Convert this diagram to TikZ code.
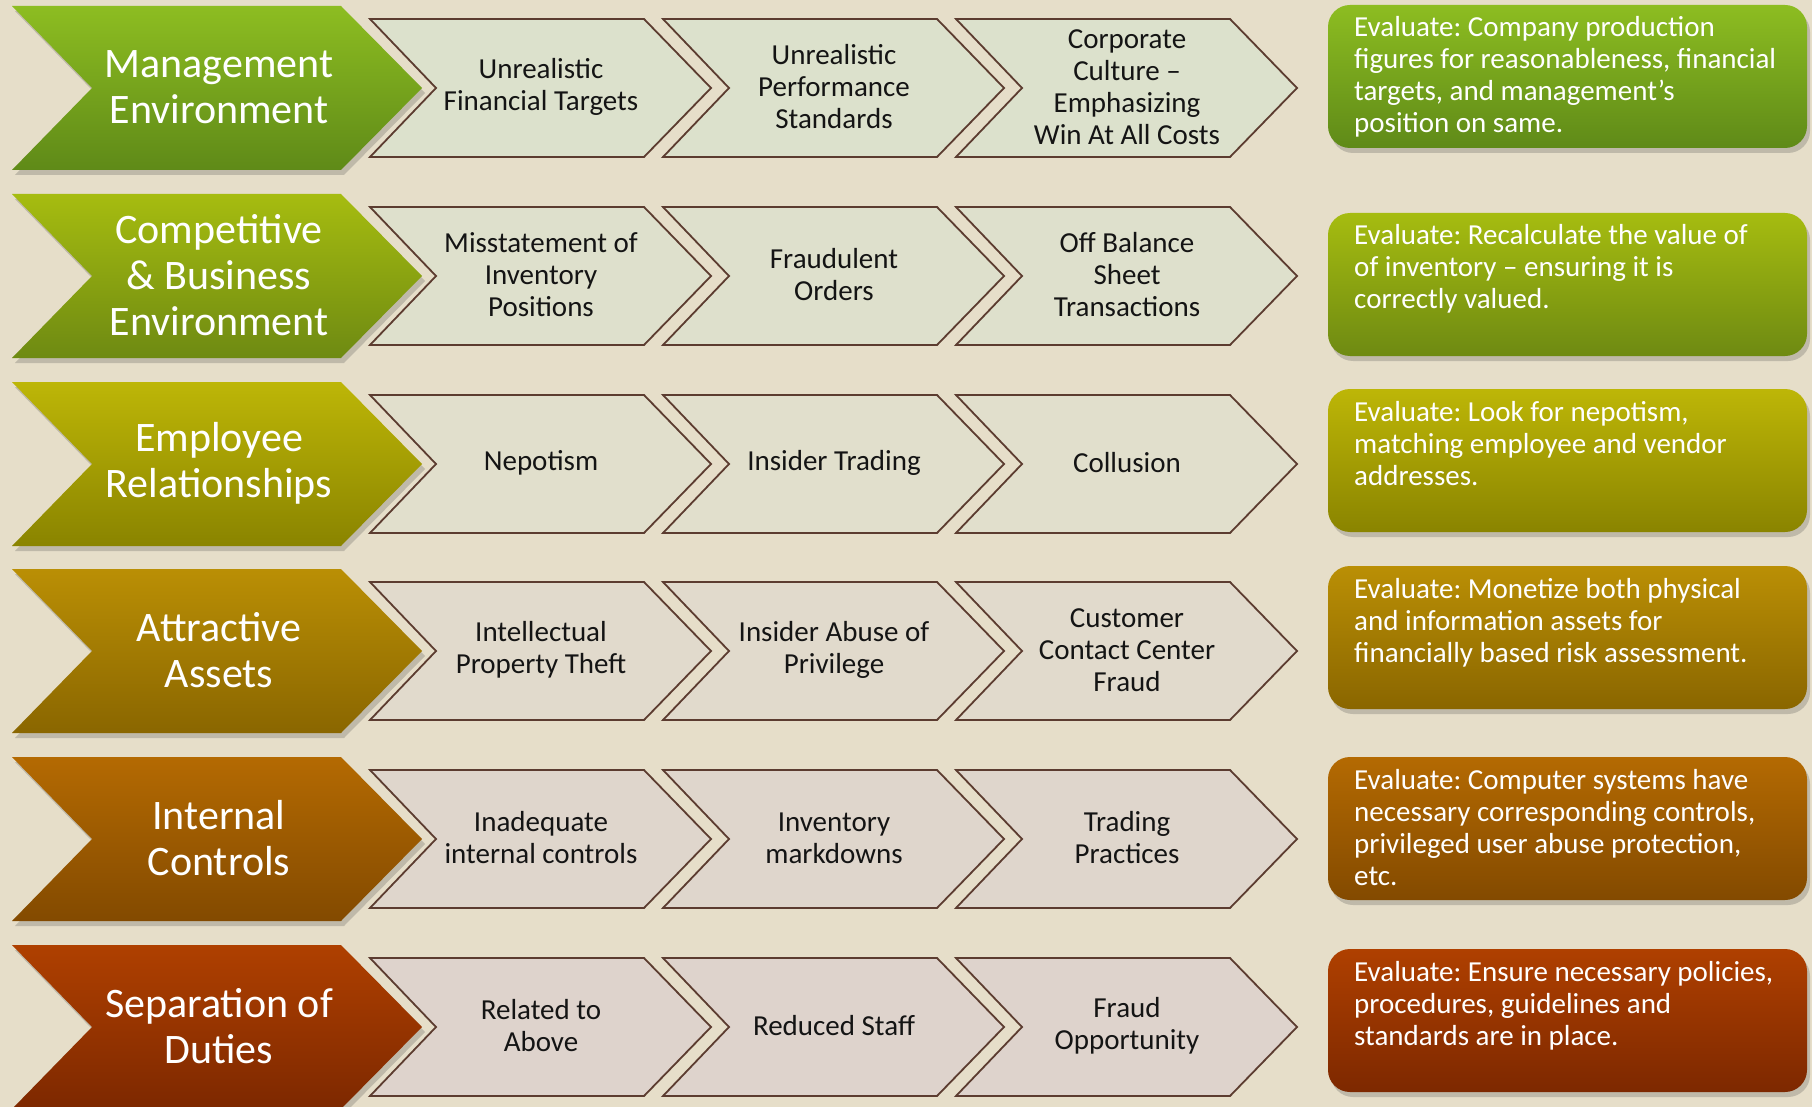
\documentclass[tikz,border=0pt]{standalone}
\usepackage{fontspec}
\setmainfont{Carlito}
\frenchspacing
\usetikzlibrary{shadows}
\definecolor{bg}{RGB}{230,222,201}
\definecolor{edge}{RGB}{92,60,48}
\definecolor{inktxt}{RGB}{20,20,20}
\definecolor{rowAtop}{RGB}{141,189,33}\definecolor{rowAbot}{RGB}{95,138,24}\definecolor{rowAfill}{RGB}{220,225,204}
\definecolor{rowBtop}{RGB}{166,188,16}\definecolor{rowBbot}{RGB}{110,138,18}\definecolor{rowBfill}{RGB}{222,224,204}
\definecolor{rowCtop}{RGB}{189,182,7}\definecolor{rowCbot}{RGB}{138,132,0}\definecolor{rowCfill}{RGB}{225,223,204}
\definecolor{rowDtop}{RGB}{186,143,5}\definecolor{rowDbot}{RGB}{138,102,0}\definecolor{rowDfill}{RGB}{225,218,204}
\definecolor{rowEtop}{RGB}{180,106,2}\definecolor{rowEbot}{RGB}{131,74,0}\definecolor{rowEfill}{RGB}{223,214,204}
\definecolor{rowFtop}{RGB}{175,64,0}\definecolor{rowFbot}{RGB}{125,40,0}\definecolor{rowFfill}{RGB}{222,211,204}
\newcommand\bigtxtfont{\fontsize{42}{46}\selectfont}
\newcommand\smalltxtfont{\fontsize{29}{32}\selectfont}
\tikzset{
  softshadow/.style={drop shadow={shadow xshift=3pt,shadow yshift=-5pt,opacity=.25,fill=black!70}},
  bigchev/.style={softshadow},
  smallchev/.style={draw=edge,line width=1.8pt,line join=miter},
  bigtext/.style={align=center,text=white,font=\bigtxtfont,inner sep=0pt},
  smalltext/.style={align=center,text=inktxt,font=\smalltxtfont,inner sep=0pt},
  evalbox/.style={softshadow,rounded corners=22pt},
  evaltext/.style={text=white,font=\smalltxtfont,inner sep=0pt,anchor=base west},
}
% #1 row letter, #2 row top, #3 title, #4-#6 chevron texts, #7 box top, #8 box text
\newcommand\riskrow[8]{%
  \path[bigchev,top color=row#1top,bottom color=row#1bot]
    (12,#2) -- (341,#2) -- (422,#2+82) -- (341,#2+164) -- (12,#2+164) -- (92,#2+82) -- cycle;
  \node[bigtext] (head#1) at (219,#2+81) {#3};
  \foreach \xo/\nm/\tx in {370/a/{#4},663/b/{#5},956/c/{#6}}{%
    \path[smallchev,fill=row#1fill]
      (\xo,#2+13) -- (\xo+274,#2+13) -- (\xo+341,#2+82) -- (\xo+274,#2+151) -- (\xo,#2+151) -- (\xo+66,#2+82) -- cycle;
    \node[smalltext] (step#1\nm) at (\xo+171,#2+81) {\tx};
  }
  \path[evalbox,top color=row#1top,bottom color=row#1bot] (1328,#7) rectangle (1807,#7+143);
  \node[evaltext] (eval#1) at (1354,#7+32) {\parbox[t]{460pt}{\raggedright #8}};
}
\begin{document}
\begin{tikzpicture}[x=1pt,y=-1pt]
\fill[bg] (0,0) rectangle (1812,1107);
\useasboundingbox (0,0) rectangle (1812,1107);
\riskrow{A}{6}{Management\\Environment}{Unrealistic\\Financial Targets}{Unrealistic\\Performance\\Standards}{Corporate\\Culture –\\Emphasizing\\Win At All Costs}{5}{Evaluate: Company production\\figures for reasonableness, financial\\targets, and management’s\\position on same.}
\riskrow{B}{194}{Competitive\\\& Business\\Environment}{Misstatement of\\Inventory\\Positions}{Fraudulent\\Orders}{Off Balance\\Sheet\\Transactions}{213}{Evaluate: Recalculate the value of\\of inventory – ensuring it is\\correctly valued.}
\riskrow{C}{382}{Employee\\Relationships}{Nepotism}{Insider Trading}{Collusion}{389}{Evaluate: Look for nepotism,\\matching employee and vendor\\addresses.}
\riskrow{D}{569}{Attractive\\Assets}{Intellectual\\Property Theft}{Insider Abuse of\\Privilege}{Customer\\Contact Center\\Fraud}{566}{Evaluate: Monetize both physical\\and information assets for\\financially based risk assessment.}
\riskrow{E}{757}{Internal\\Controls}{Inadequate\\internal controls}{Inventory\\markdowns}{Trading\\Practices}{757}{Evaluate: Computer systems have\\necessary corresponding controls,\\privileged user abuse protection,\\etc.}
\riskrow{F}{945}{Separation of\\Duties}{Related to\\Above}{Reduced Staff}{Fraud\\Opportunity}{949}{Evaluate: Ensure necessary policies,\\procedures, guidelines and\\standards are in place.}
\end{tikzpicture}
\end{document}
